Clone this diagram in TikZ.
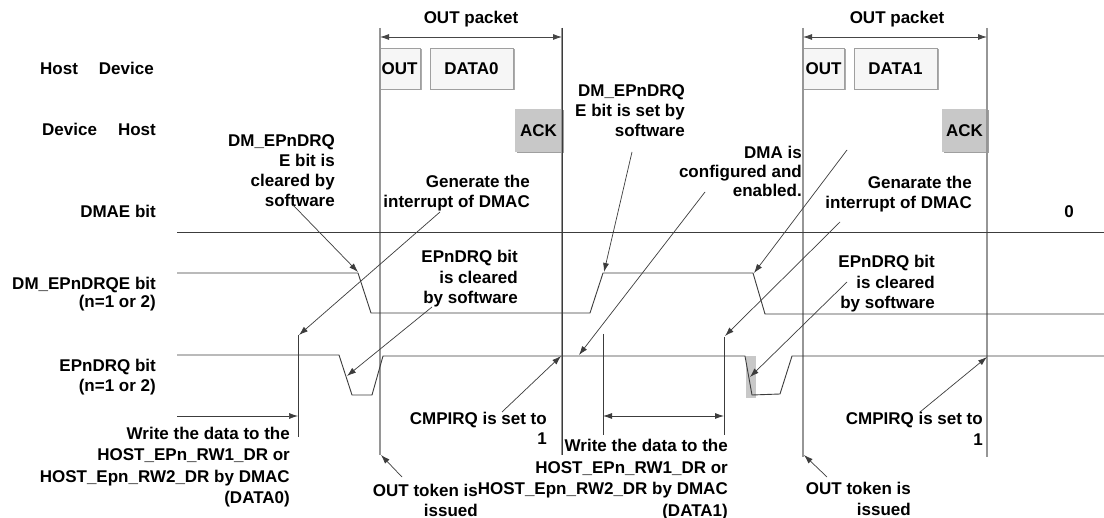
\documentclass[tikz,border=0pt]{standalone}
\usepackage{fontspec}
\setmainfont{Liberation Sans}
\usetikzlibrary{arrows.meta,shadows}
\definecolor{ln}{RGB}{60,60,60}
\definecolor{pk}{RGB}{150,150,150}
\definecolor{ackfill}{RGB}{200,200,200}
\definecolor{boxfill}{RGB}{246,246,246}
\newcommand\lblf[1]{\bfseries\fontsize{17}{#1}\selectfont}
\tikzset{
  sig/.style={draw=ln, line width=0.9pt},
  pkt/.style={draw=pk, line width=1.8pt},
  lbl/.style={font=\lblf{20.5}, align=right, inner sep=0pt, anchor=north east, text=black},
  one/.style={font=\lblf{20.5}, inner sep=0pt, text=black},
  ptr/.style={draw=ln, line width=0.7pt, -{Latex[length=9pt,width=6pt]}},
  dbl/.style={draw=ln, line width=0.8pt, {Latex[length=9pt,width=6pt]}-{Latex[length=9pt,width=6pt]}},
  pktbox/.style={draw=gray!75, fill=boxfill, line width=0.6pt, inner sep=0pt, font=\lblf{20.5},
    drop shadow={shadow xshift=1.5pt, shadow yshift=-1.5pt, fill=gray!65, opacity=1}},
  ackbox/.style={fill=ackfill, inner sep=0pt, font=\lblf{20.5},
    drop shadow={shadow xshift=1.5pt, shadow yshift=-1.5pt, fill=gray!75, opacity=1}}
}
\begin{document}
\begin{tikzpicture}[x=1pt,y=-1pt]
\fill[white] (0,0) rectangle (1104,518);
\useasboundingbox (0,0) rectangle (1104,518);

% left row labels
\node[one, anchor=east] (lhd) at (154,68) {Host\hspace{21pt}Device};
\node[one, anchor=east] (ldh) at (156,129) {Device\hspace{21pt}Host};
\node[one, anchor=east] (ldmae) at (156,211) {DMAE bit};
\node[lbl, font=\lblf{18}] (lqe) at (156,277) {DM\_EPnDRQE bit\\(n=1 or 2)};
\node[lbl, font=\lblf{20}] (lrq) at (156,359) {EPnDRQ bit\\(n=1 or 2)};

% packet boxes
\node[pktbox, minimum width=41pt, minimum height=41pt] (out1) at (399.5,68.5) {OUT};
\node[pktbox, minimum width=83pt, minimum height=41pt] (data0) at (471.5,68.5) {DATA0};
\node[ackbox, minimum width=47pt, minimum height=43pt] (ack1) at (538.5,130.5) {ACK};
\node[pktbox, minimum width=41pt, minimum height=41pt] (out2) at (823.5,68.5) {OUT};
\node[pktbox, minimum width=83pt, minimum height=41pt] (data1) at (895.5,68.5) {DATA1};
\node[ackbox, minimum width=45pt, minimum height=43pt] (ack2) at (964.5,130.5) {ACK};

% packet boundaries
\coordinate (p1lt) at (380,28); \coordinate (p1lb) at (380,455);
\coordinate (p1rt) at (562,28); \coordinate (p1rb) at (562,455);
\coordinate (p2lt) at (803,28); \coordinate (p2lb) at (803,457);
\coordinate (p2rt) at (987,28); \coordinate (p2rb) at (987,457);
\draw[pkt] (p1lt) -- (p1lb);
\draw[pkt] (p1rt) -- (p1rb);
\draw[ln, line width=0.8pt] (p1rt) -- (p1rb);
\draw[pkt] (p2lt) -- (p2lb);
\draw[pkt] (p2rt) -- (p2rb);
\coordinate (p1al) at (380,37); \coordinate (p1ar) at (562,37);
\coordinate (p2al) at (803,37); \coordinate (p2ar) at (987,37);
\draw[dbl, draw=gray!55!black] (p1al) -- (p1ar);
\draw[dbl, draw=gray!55!black] (p2al) -- (p2ar);
\node[one] (pk1) at (471,19) {OUT packet};
\node[one] (pk2) at (897,19) {OUT packet};

% signals
\draw[sig] (177,232) -- (1104,232);
\draw[sig] (177,273) -- (358,273) -- (371,313) -- (590,313) -- (603,273) -- (753,273) -- (765,314) -- (1104,314);
\fill[ackfill] (746,356) rectangle (756,398);
\draw[sig] (177,355) -- (339,355) -- (352,395) -- (372,395) -- (383,356) -- (745,356) -- (752,395) -- (780,394) -- (792,356) -- (1104,356);

% DMA write markers
\coordinate (w1t) at (298,335); \coordinate (w1b) at (298,437);
\coordinate (w1a) at (177,416); \coordinate (w1e) at (298,416);
\draw[sig] (w1t) -- (w1b);
\draw[ptr] (w1a) -- (w1e);
\coordinate (w2lt) at (603,334); \coordinate (w2lb) at (603,435);
\coordinate (w2rt) at (724,337); \coordinate (w2rb) at (724,435);
\coordinate (w2al) at (603,416); \coordinate (w2ar) at (724,416);
\draw[sig] (w2lt) -- (w2lb);
\draw[sig] (w2rt) -- (w2rb);
\draw[dbl] (w2al) -- (w2ar);

% annotation labels
\node[lbl, font=\lblf{21.3}] (twr0) at (290,427) {Write the data to the\\HOST\_EPn\_RW1\_DR or\\HOST\_Epn\_RW2\_DR by DMAC\\(DATA0)};
\node[lbl, font=\lblf{20.3}] (tclr) at (335,134) {DM\_EPnDRQ\\E bit is\\cleared by\\software};
\node[lbl, font=\lblf{20}] (tgen1) at (530,175) {Generate the\\interrupt of DMAC};
\node[lbl, font=\lblf{20.5}] (trq1) at (518,250) {EPnDRQ bit\\is cleared\\by software};
\node[lbl, font=\lblf{19.5}] (tcmp1) at (547,412) {CMPIRQ is set to\\1};
\node[lbl, font=\lblf{20}] (ttok1) at (478,484) {OUT token is\\issued};
\node[lbl, font=\lblf{21.7}] (twr1) at (728,439) {Write the data to the\\HOST\_EPn\_RW1\_DR or\\HOST\_Epn\_RW2\_DR by DMAC\\(DATA1)};
\node[lbl, font=\lblf{20}] (tset) at (685,84) {DM\_EPnDRQ\\E bit is set by\\software};
\node[lbl, font=\lblf{19}] (tdma) at (802,146) {DMA is\\configured and\\enabled.};
\node[lbl, font=\lblf{20}] (tgen2) at (972,176) {Genarate the\\interrupt of DMAC};
\node[one] (tzero) at (1069,212) {0};
\node[lbl, font=\lblf{20.5}] (trq2) at (935,255) {EPnDRQ bit\\is cleared\\by software};
\node[lbl, font=\lblf{21}] (tcmp2) at (983,412) {CMPIRQ is set to\\1};
\node[lbl, font=\lblf{21}] (ttok2) at (911,482) {OUT token is\\issued};

% pointers
\coordinate (a1s) at (293,205); \coordinate (a1e) at (358,272);
\coordinate (a2s) at (440,212); \coordinate (a2e) at (299,335);
\coordinate (a3s) at (432,307); \coordinate (a3e) at (347,376);
\coordinate (a4s) at (402,477); \coordinate (a4e) at (381,455);
\coordinate (a5s) at (502,412); \coordinate (a5e) at (561,356);
\coordinate (a6s) at (632,152); \coordinate (a6e) at (604,272);
\coordinate (a7s) at (705,192); \coordinate (a7e) at (579,355);
\coordinate (a8s) at (847,150); \coordinate (a8e) at (754,273);
\coordinate (a9s) at (840,222); \coordinate (a9e) at (725,336);
\coordinate (a10s) at (847,282); \coordinate (a10e) at (750,377);
\coordinate (a11s) at (827,477); \coordinate (a11e) at (804,455);
\coordinate (a12s) at (920,412); \coordinate (a12e) at (987,357);
\foreach \i in {1,...,12} { \draw[ptr] (a\i s) -- (a\i e); }
\end{tikzpicture}
\end{document}
